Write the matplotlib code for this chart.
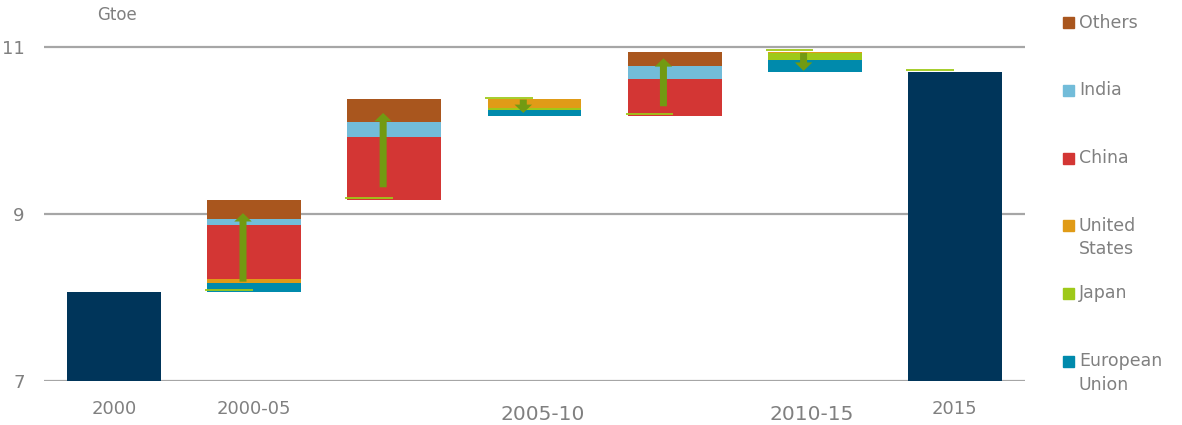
import matplotlib.pyplot as plt
from matplotlib.patches import FancyArrow, Rectangle

# waterfall of energy demand change, Gtoe
start_2000 = 8.07
end_2015 = 10.70
regions = ['European\nUnion', 'Japan', 'United\nStates', 'China', 'India', 'Others']
colors = ['#008aac', '#9ec919', '#e09b17', '#d33634', '#72bcd9', '#a9561e']
# changes per step, order as regions
steps = [
    [0.10, 0.0, 0.05, 0.65, 0.075, 0.225],
    [0.0, 0.0, 0.0, 0.75, 0.18, 0.275],
    [-0.072, -0.02, -0.104, 0.0, 0.0, 0.0],
    [0.0, 0.0, 0.0, 0.435, 0.164, 0.163],
    [-0.144, -0.077, -0.016, 0.0, 0.0, 0.0],
]
arrow_from = [8.19, 9.32, 10.37, 10.29, 10.93]
arrow_to = [9.01, 10.21, 10.21, 10.865, 10.715]

tick_pos = [0, 1, 6]
tick_labels = ['2000', '2000-05', '2015']
extra_labels = ['2005-10', '2010-15']
extra_pos = [3.06, 4.98]

navy = '#00355a'
olive = '#729a12'
grey = '#808080'
grid = '#a6a6a6'
bw = 0.67

fig = plt.figure(figsize=(11.82, 4.25), dpi=100)
ax = fig.add_axes([44 / 1182, 44 / 425, 981 / 1182, 367.4 / 425])
ax.set_xlim(-0.5, 6.5)
ax.set_ylim(7, 11.4)

for y in [7, 9, 11]:
    ax.axhline(y, color=grid, lw=1.6, zorder=0)

ax.bar(0, start_2000 - 7, bottom=7, width=bw, color=navy, zorder=2)
ax.bar(6, end_2015 - 7, bottom=7, width=bw, color=navy, zorder=2)

level = start_2000
for i, st in enumerate(steps):
    x = i + 1
    total = sum(st)
    cum = level + min(total, 0)
    for v, c in zip(st, colors):
        if v != 0:
            ax.bar(x, abs(v), bottom=cum, width=bw, color=c, zorder=2)
            cum += abs(v)
    # previous level marker
    ax.hlines(level + 0.018, x - bw / 2 - 0.015, x - 0.01, color=colors[1], lw=1.3, zorder=3)
    ax.add_patch(FancyArrow(x - 0.08, arrow_from[i], 0, arrow_to[i] - arrow_from[i],
                            width=0.05, head_width=0.125, head_length=0.1,
                            length_includes_head=True, color=olive, lw=0, zorder=4))
    level += total
ax.hlines(level + 0.018, 6 - bw / 2 - 0.015, 6 - 0.01, color=colors[1], lw=1.3, zorder=3)

for s in ax.spines.values():
    s.set_visible(False)
ax.set_yticks([7, 9, 11])
ax.set_yticklabels(['7', '9', '11'])
ax.set_xticks(tick_pos)
ax.set_xticklabels(tick_labels)
ax.tick_params(axis='both', length=0, colors=grey, labelsize=13)
ax.tick_params(axis='y', pad=14)
ax.tick_params(axis='x', pad=14)
for lab, xp in zip(extra_labels, extra_pos):
    ax.text(xp, -0.09, lab, transform=ax.get_xaxis_transform(), ha='center', va='center',
            fontsize=14.5, color=grey)

fig.text(97 / 1182, 1 - 15 / 425, 'Gtoe', ha='left', va='center', fontsize=12, color=grey)

# legend, top to bottom
for k, (lab, c) in enumerate(zip(regions[::-1], colors[::-1])):
    yc = 22.5 + k * 67.75
    fig.add_artist(Rectangle((1063 / 1182, 1 - (yc + 5.5) / 425), 11 / 1182, 11 / 425,
                             transform=fig.transFigure, color=c))
    for j, line in enumerate(lab.split('\n')):
        fig.text(1079 / 1182, 1 - (yc + j * 23.3) / 425, line, ha='left', va='center',
                 fontsize=12.5, color=grey)

fig.savefig('out.png', dpi=100)
